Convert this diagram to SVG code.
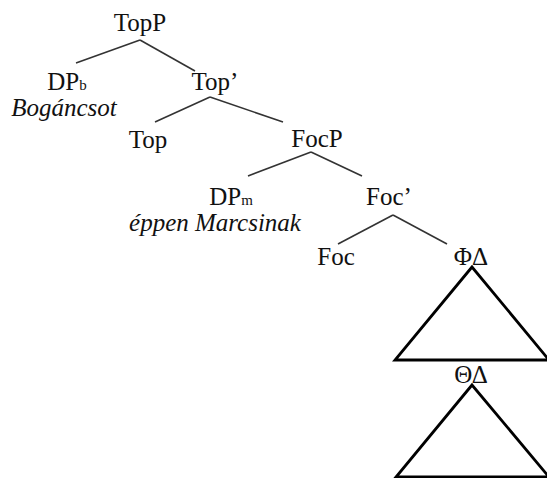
<svg xmlns="http://www.w3.org/2000/svg" width="547" height="478" viewBox="0 0 547 478">
<style>
text{font-family:"Liberation Serif","Times New Roman",serif;font-size:25px;fill:#111;text-anchor:middle}
.it{font-style:italic}
.sub{font-size:15px}
.br{stroke:#333;stroke-width:1.6;fill:none}
.tri{stroke:#000;stroke-width:2.8;fill:none;stroke-linejoin:miter}
</style>
<rect width="547" height="478" fill="#fff"/>
<g id="connectors">
<line class="br" x1="140" y1="40" x2="76" y2="63"/>
<line class="br" x1="140" y1="40" x2="195" y2="71"/>
<line class="br" x1="210" y1="97" x2="155" y2="122"/>
<line class="br" x1="210" y1="97" x2="283" y2="122"/>
<line class="br" x1="311" y1="152" x2="248" y2="176"/>
<line class="br" x1="311" y1="152" x2="362" y2="176"/>
<line class="br" x1="393" y1="215" x2="338" y2="244"/>
<line class="br" x1="393" y1="215" x2="447" y2="244"/>
</g>
<g id="TopP"><text x="140" y="31">TopP</text></g>
<g id="DPb"><text x="67" y="90">DP<tspan class="sub">b</tspan></text><text class="it" x="64" y="116">Bogáncsot</text></g>
<g id="TopBar"><text x="215" y="90">Top’</text></g>
<g id="Top"><text x="148" y="148">Top</text></g>
<g id="FocP"><text x="317" y="147">FocP</text></g>
<g id="DPm"><text x="231" y="205">DP<tspan class="sub">m</tspan></text><text class="it" x="215" y="231">éppen Marcsinak</text></g>
<g id="FocBar"><text x="389" y="205">Foc’</text></g>
<g id="Foc"><text x="336" y="265">Foc</text></g>
<g id="PhiDelta"><text x="471" y="265">ΦΔ</text><polygon class="tri" points="472,267 395,360 549,360"/></g>
<g id="ThetaDelta"><text x="471" y="383">ΘΔ</text><polygon class="tri" points="472,385 396,477 549,477"/></g>
</svg>
